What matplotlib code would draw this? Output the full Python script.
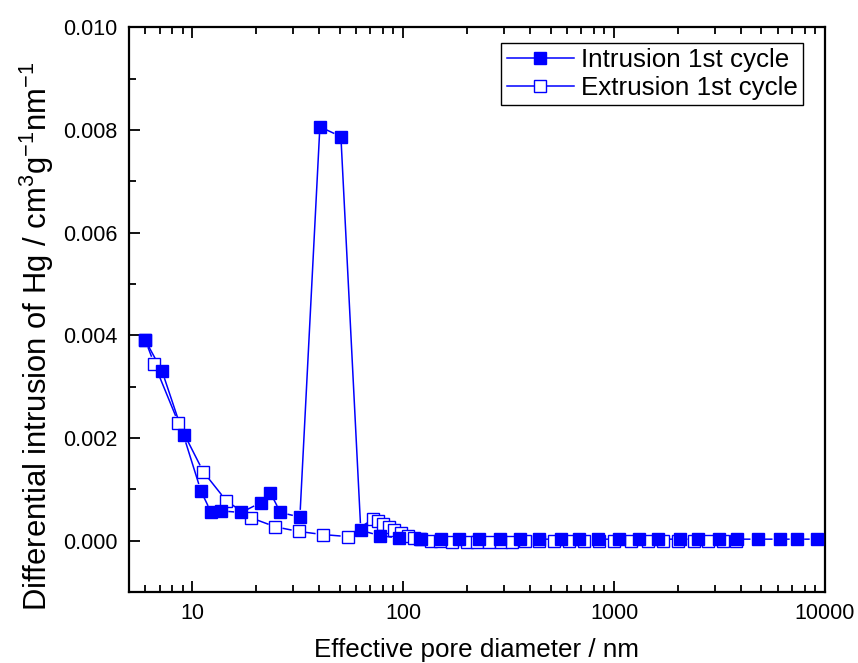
import numpy as np
import matplotlib
matplotlib.use('Agg')
import matplotlib.pyplot as plt
from matplotlib.lines import Line2D
from matplotlib.ticker import FixedLocator, LogLocator, NullFormatter

plt.rcParams['font.family'] = ['Liberation Sans', 'DejaVu Sans']
plt.rcParams['mathtext.fontset'] = 'custom'
plt.rcParams['mathtext.rm'] = 'Liberation Sans'
plt.rcParams['mathtext.default'] = 'regular'

# intrusion, 1st cycle (filled squares)
intr_d = [6.0, 7.2, 9.1, 11.0, 12.3, 13.7, 17.1, 21.1, 23.5, 26.2, 32.4, 40.3, 50.7,
          63, 77.6, 95.7, 122, 152, 185, 230, 287, 357, 439, 560, 681, 839, 1057,
          1316, 1621, 2061, 2514, 3162, 3811, 4797, 6105, 7362, 9160]
intr_v = [0.0039, 0.0033, 0.00205, 0.00097, 0.00055, 0.00058, 0.00055, 0.00074, 0.00093,
          0.00055, 0.00046, 0.00806, 0.00787, 0.0002, 0.0001, 0.00005, 0.00004, 0.00003,
          0.00003, 0.00003, 0.00003, 0.00003, 0.00003, 0.00003, 0.00003, 0.00003, 0.00003,
          0.00003, 0.00003, 0.00003, 0.00003, 0.00003, 0.00003, 0.00003, 0.00003, 0.00003,
          0.00003]

# extrusion, 1st cycle (open squares)
extr_d = [6.0, 6.6, 8.6, 11.3, 14.5, 18.9, 24.8, 32, 41.6, 54.7, 72, 76, 80, 86, 91, 98,
          105, 113, 120, 135, 150, 170, 200, 225, 255, 290, 330, 380, 440, 520, 610, 720,
          850, 1000, 1200, 1450, 1700, 2000, 2400, 2800, 3300, 3800]
extr_v = [0.0039, 0.00345, 0.0023, 0.00134, 0.00078, 0.00045, 0.00027, 0.00018, 0.00012,
          0.00008, 0.00043, 0.00039, 0.00033, 0.00026, 0.0002, 0.00015, 0.0001, 0.00006,
          0.00003, 0.0, -0.00001, -0.00002, -0.00002, -0.00003, -0.00002, -0.00002,
          -0.00002, -0.00001, -0.00001, -0.00001, -0.00001, -0.00001, -0.00001, -0.00001,
          -0.00001, -0.00001, -0.00001, -0.00001, -0.00001, -0.00001, -0.00001, -0.00001]

blue = '#0000ff'

fig = plt.figure(figsize=(8.58, 6.63), dpi=100)
ax = fig.add_axes([0.150, 0.107, 0.8115, 0.852])
ax.set_xscale('log')
ax.set_xlim(5, 10000)
ax.set_ylim(-0.001, 0.010)


# Origin-style line: gaps around each marker
def gapped_line(xs, ys, gap):
    pts = ax.transData.transform(np.column_stack([xs, ys]))
    segs = []
    for p, q in zip(pts[:-1], pts[1:]):
        d = q - p
        n = np.hypot(*d)
        if n <= 2 * gap:
            continue
        u = d / n
        segs.append(ax.transData.inverted().transform([p + u * gap, q - u * gap]))
        segs.append([[np.nan, np.nan]])
    seg = np.vstack(segs)
    ax.plot(seg[:, 0], seg[:, 1], '-', color=blue, lw=1.1, zorder=2)


gapped_line(extr_d, extr_v, 8)
gapped_line(intr_d, intr_v, 8)
ax.plot(extr_d, extr_v, ls='none', marker='s', ms=8, mfc='white', mec=blue, mew=1.0,
        zorder=3)
ax.plot(intr_d, intr_v, ls='none', marker='s', ms=8.5, mfc=blue, mec=blue, mew=1.0,
        zorder=4)

ax.xaxis.set_major_locator(FixedLocator([10, 100, 1000, 10000]))
ax.xaxis.set_minor_locator(LogLocator(base=10, subs=np.arange(2, 10)))
ax.xaxis.set_minor_formatter(NullFormatter())
ax.set_xticklabels(['10', '100', '1000', '10000'])
ax.yaxis.set_major_locator(FixedLocator([0.0, 0.002, 0.004, 0.006, 0.008, 0.010]))
ax.set_yticklabels(['0.000', '0.002', '0.004', '0.006', '0.008', '0.010'])
ax.yaxis.set_minor_locator(FixedLocator([-0.001, 0.001, 0.003, 0.005, 0.007, 0.009]))

ax.tick_params(which='both', direction='in', top=True, right=False, width=1.3,
               labelsize=15.5, pad=8)
ax.tick_params(which='major', length=8)
ax.tick_params(which='minor', length=5)
for s in ax.spines.values():
    s.set_linewidth(1.6)

ax.set_xlabel('Effective pore diameter / nm', fontsize=18.7, labelpad=10)
ax.set_ylabel(r'Differential intrusion of Hg / cm$^{3}$g$^{-1}$nm$^{-1}$', fontsize=22.3)
ax.yaxis.set_label_coords(-0.104, 0.452)

handles = [
    Line2D([], [], color=blue, lw=1.1, marker='s', ms=8.5, mfc=blue, mec=blue),
    Line2D([], [], color=blue, lw=1.1, marker='s', ms=8, mfc='white', mec=blue),
]
leg = ax.legend(handles, ['Intrusion 1st cycle', 'Extrusion 1st cycle'],
                loc='upper right', bbox_to_anchor=(0.968, 0.972), fontsize=18.7,
                fancybox=False, edgecolor='black', framealpha=1, borderpad=0.2,
                handlelength=2.6, handletextpad=0.25, labelspacing=0.15,
                borderaxespad=0)
leg.get_frame().set_linewidth(1.0)

fig.savefig('out.png', dpi=100)
